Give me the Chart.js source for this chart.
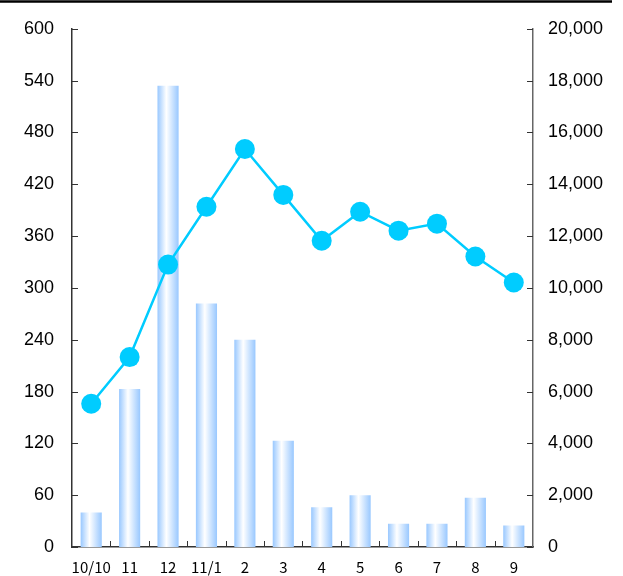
<!DOCTYPE html>
<html>
<head>
<meta charset="utf-8">
<script src="https://cdn.jsdelivr.net/npm/chart.js@4"></script>
<style>
  html, body { margin: 0; padding: 0; background: #fff; }
  #wrap { width: 623px; height: 576px; }
</style>
</head>
<body>
<div id="wrap"><canvas id="chart" width="623" height="576"></canvas></div>
<script>
// ラベルとデータ
const labels = ['10/10', '11', '12', '11/1', '2', '3', '4', '5', '6', '7', '8', '9'];
const barValues = [40, 183, 534, 282, 240, 123, 46, 60, 27, 27, 57, 25];
const lineValues = [5530, 7330, 10900, 13130, 15360, 13590, 11820, 12940, 12210, 12480, 11210, 10210];
const leftTicks = [0, 60, 120, 180, 240, 300, 360, 420, 480, 540, 600];
const rightTicks = [0, 2000, 4000, 6000, 8000, 10000, 12000, 14000, 16000, 18000, 20000];

const lineColor = '#00CCFF';
const barBlue = '#99C8FF';
const axisColor = '#333333';
const barPct = 0.55;

// 棒ごとの横グラデーション
const barGradient = (c) => {
    const xs = c.chart.scales.x;
    if (c.type !== 'data' || !xs || !xs.width) return barBlue;
    const w = xs.width / labels.length * barPct;
    const cx = xs.getPixelForValue(c.dataIndex);
    const g = c.chart.ctx.createLinearGradient(cx - w / 2, 0, cx + w / 2, 0);
    g.addColorStop(0, barBlue);
    g.addColorStop(0.42, '#FFFFFF');
    g.addColorStop(1, barBlue);
    return g;
};

// 目盛り（内向き）+ 上の線
const decoPlugin = {
    id: 'deco',
    afterDraw(chart) {
        const ctx = chart.ctx;
        const area = chart.chartArea;
        const x = chart.scales.x;
        const y = chart.scales.y;
        const y2 = chart.scales.y2;
        ctx.save();
        ctx.strokeStyle = '#000';
        ctx.lineWidth = 2.5;
        ctx.beginPath();
        ctx.moveTo(0, 1.5);
        ctx.lineTo(612, 1.5);
        ctx.stroke();

        ctx.strokeStyle = axisColor;
        ctx.lineWidth = 1;
        ctx.beginPath();
        leftTicks.forEach(v => {
            const py = Math.round(y.getPixelForValue(v)) + 0.5;
            ctx.moveTo(area.left, py);
            ctx.lineTo(area.left + 6, py);
        });
        rightTicks.forEach(v => {
            const py = Math.round(y2.getPixelForValue(v)) + 0.5;
            ctx.moveTo(area.right, py);
            ctx.lineTo(area.right - 6, py);
        });
        const half = (x.getPixelForValue(1) - x.getPixelForValue(0)) / 2;
        for (let i = 0; i < labels.length - 1; i++) {
            const px = Math.round(x.getPixelForValue(i) + half) + 0.5;
            ctx.moveTo(px, area.bottom);
            ctx.lineTo(px, area.bottom - 6);
        }
        ctx.stroke();
        ctx.restore();
    }
};

new Chart(document.getElementById('chart'), {
    data: {
        labels: labels,
        datasets: [
            {
                type: 'bar',
                data: barValues,
                yAxisID: 'y',
                backgroundColor: barGradient,
                borderWidth: 0,
                barPercentage: barPct,
                categoryPercentage: 1,
                order: 1
            },
            {
                type: 'line',
                data: lineValues,
                yAxisID: 'y2',
                borderColor: lineColor,
                borderWidth: 2.5,
                pointRadius: 10,
                pointBackgroundColor: lineColor,
                pointBorderColor: lineColor,
                pointBorderWidth: 0,
                tension: 0,
                order: 0
            }
        ]
    },
    options: {
        responsive: false,
        animation: false,
        events: [],
        layout: { padding: { left: 0, right: 0, top: 26, bottom: 0 } },
        plugins: {
            legend: { display: false },
            tooltip: { enabled: false }
        },
        scales: {
            x: {
                offset: true,
                afterFit: s => { s.height = 29; },
                grid: { display: false, drawTicks: false },
                border: { display: true, color: axisColor, width: 1.5 },
                ticks: {
                    color: '#000',
                    font: { family: '"Noto Sans CJK JP", sans-serif', size: 15 },
                    padding: 11,
                    maxRotation: 0,
                    autoSkip: false
                }
            },
            y: {
                position: 'left',
                min: 0,
                max: 600,
                afterBuildTicks: s => { s.ticks = leftTicks.map(v => ({ value: v })); },
                afterFit: s => { s.width = 72; },
                grid: { display: false, drawTicks: false },
                border: { display: true, color: axisColor, width: 1.5 },
                ticks: {
                    color: '#000',
                    font: { family: '"Liberation Sans", Arial, sans-serif', size: 18 },
                    padding: 18
                }
            },
            y2: {
                position: 'right',
                min: 0,
                max: 20000,
                afterBuildTicks: s => { s.ticks = rightTicks.map(v => ({ value: v })); },
                afterFit: s => { s.width = 90; },
                grid: { display: false, drawTicks: false },
                border: { display: true, color: '#666', width: 1.5 },
                ticks: {
                    color: '#000',
                    font: { family: '"Liberation Sans", Arial, sans-serif', size: 18 },
                    padding: 15,
                    callback: v => v.toLocaleString('en-US')
                }
            }
        }
    },
    plugins: [decoPlugin]
});
</script>
</body>
</html>
